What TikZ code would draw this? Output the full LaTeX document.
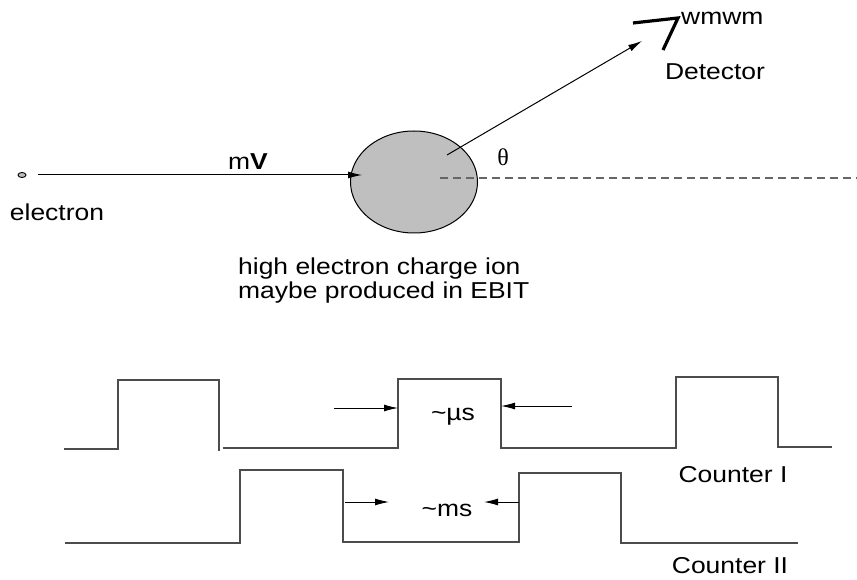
\documentclass[tikz,border=0pt]{standalone}
\usepackage{fontspec}
\setmainfont{Liberation Sans}[FakeStretch=1.15]
\newfontfamily\thetafont{Liberation Serif}
\usetikzlibrary{arrows.meta,shapes.geometric}
\tikzset{
  txt/.style={font=\fontsize{23}{27}\selectfont, inner sep=0pt},
  trace/.style={black!70, line width=1.4pt},
  arr/.style={-{Latex[length=14pt,width=7pt]}, line width=1pt},
}
\begin{document}
\begin{tikzpicture}[x=1pt, y=-1pt]
    \useasboundingbox (0,0) rectangle (857,580);
    % scattering
    \node[ellipse, draw, fill=black!25, line width=1pt, minimum width=127pt, minimum height=102pt] (ion) at (414,182) {};
    \node[ellipse, draw, fill=black!25, line width=0.9pt, minimum width=8pt, minimum height=5pt, inner sep=0pt] (electron) at (22,175) {};
    \coordinate (hit) at (362,175);
    \coordinate (scat) at (447,155);
    \coordinate (det) at (642,41);
    \draw[arr, shorten <=12pt] (electron) -- (hit);
    \draw[arr] (scat) -- (det);
    \draw[black!60, line width=1.3pt, dash pattern=on 8pt off 5pt] (440,178) -- (857,178);
    \draw[line width=3.2pt] (633,23) -- (678,18) -- (663,50);
    \node[txt] (mv) at (248,162) {m\textbf{V}};
    \node[txt] (elbl) at (57,212) {electron};
    \node[txt, font=\fontsize{24}{27}\thetafont] (theta) at (503,157) {θ};
    \node[txt, anchor=west] (wm) at (681,18) {wmwm};
    \node[txt] (detlbl) at (715,72) {Detector};
    \node[txt, anchor=west] (ionlbl1) at (238,269) {high electron charge ion};
    \node[txt, anchor=west] (ionlbl2) at (238,293) {maybe produced in EBIT};
    % counters
    \draw[trace] (64,449) -| (118,380) -| (219,451);
    \draw[trace] (223,448) -| (398,379) -| (501,448) -| (676,377) -| (778,447) -- (832,447);
    \draw[trace] (65,543) -| (240,470) -| (343,542) -| (519,473) -| (621,543) -- (798,543);
    \coordinate (usL) at (334,408);
    \coordinate (usR) at (572,406);
    \coordinate (msL) at (345,502);
    \coordinate (msR) at (519,502);
    \draw[arr] (usL) -- (398,408);
    \draw[arr] (usR) -- (501,406);
    \draw[arr] (msL) -- (389,502);
    \draw[arr] (msR) -- (484,502);
    \node[txt] (us) at (453,417) {\textasciitilde\textmu s};
    \node[txt] (ms) at (447,510) {\textasciitilde ms};
    \node[txt] (c1) at (733,475) {Counter I};
    \node[txt] (c2) at (730,566) {Counter II};
\end{tikzpicture}
\end{document}
